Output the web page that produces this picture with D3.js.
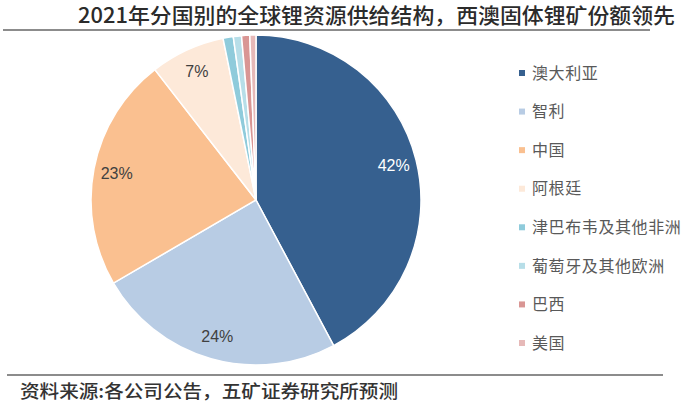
<!DOCTYPE html>
<html>
<head>
<meta charset="utf-8">
<script src="https://cdn.jsdelivr.net/npm/d3@7"></script>
<style>
  html, body { margin: 0; padding: 0; background: #fff; }
  svg { display: block; }
</style>
</head>
<body>
<div id="chart"></div>
<script>
// data
const countries = ["澳大利亚", "智利", "中国", "阿根廷", "津巴布韦及其他非洲", "葡萄牙及其他欧洲", "巴西", "美国"];
const shares = [42.2, 24.4, 22.9, 7.3, 1.0, 0.8, 0.8, 0.6];
const colors = ["#36608f", "#b8cce4", "#fac090", "#fde9d9", "#8fcbdb", "#b7dee8", "#d99694", "#e6b9b8"];
const titleText = "2021年分国别的全球锂资源供给结构，西澳固体锂矿份额领先";
const sourceText = "资料来源:各公司公告，五矿证券研究所预测";

const width = 692, height = 405;
const cx = 256, cy = 200, radius = 165;
const cjk = "'Noto Sans CJK SC', 'Noto Sans', sans-serif";

const svg = d3.select("#chart").append("svg")
    .attr("width", width)
    .attr("height", height);

// title + rules
svg.append("text")
    .attr("x", 78).attr("y", 23)
    .attr("textLength", 597)
    .attr("lengthAdjust", "spacingAndGlyphs")
    .attr("style", `font-family: ${cjk}; font-size: 21px; font-weight: 500; fill: #2b2b2b;`)
    .text(titleText);

svg.append("line")
    .attr("x1", 3).attr("x2", 650).attr("y1", 30).attr("y2", 30)
    .attr("stroke", "#8c8c8c").attr("stroke-width", 2);

svg.append("line")
    .attr("x1", 7).attr("x2", 663).attr("y1", 375).attr("y2", 375)
    .attr("stroke", "#8c8c8c").attr("stroke-width", 2);

svg.append("text")
    .attr("x", 20).attr("y", 398)
    .attr("textLength", 378)
    .attr("lengthAdjust", "spacingAndGlyphs")
    .attr("style", `font-family: ${cjk}; font-size: 18px; font-weight: 500; fill: #333;`)
    .text(sourceText);

// pie
const rows = countries.map((c, i) => ({ name: c, value: shares[i], color: colors[i] }));
const pie = d3.pie().sort(null).value(d => d.value);
const arcs = pie(rows);
const arc = d3.arc().innerRadius(0).outerRadius(radius);
const labelArc = d3.arc().innerRadius(radius * 0.86).outerRadius(radius * 0.86);

const g = svg.append("g").attr("transform", `translate(${cx},${cy})`);

g.selectAll("path")
    .data(arcs)
    .enter()
    .append("path")
    .attr("d", arc)
    .attr("fill", d => d.data.color)
    .attr("stroke", "#fff")
    .attr("stroke-width", 1.5);

g.selectAll(".pct")
    .data(arcs.filter(d => d.data.value >= 5))
    .enter()
    .append("text")
    .attr("class", "pct")
    .attr("transform", d => `translate(${labelArc.centroid(d)})`)
    .attr("text-anchor", "middle")
    .attr("dy", "0.36em")
    .attr("style", d => `font-family: 'Liberation Sans', Arial, sans-serif; font-size: 16px; fill: ${d.index === 0 ? "#fff" : "#404040"};`)
    .text(d => Math.round(d.data.value) + "%");

// legend
const ly = d3.scalePoint().domain(countries).range([73, 343]);

const legend = svg.selectAll(".legend")
    .data(rows)
    .enter()
    .append("g")
    .attr("class", "legend")
    .attr("transform", d => `translate(519,${ly(d.name)})`);

legend.append("rect")
    .attr("x", 0).attr("y", -3)
    .attr("width", 6).attr("height", 6)
    .attr("fill", d => d.color);

legend.append("text")
    .attr("x", 13)
    .attr("dy", "0.36em")
    .attr("style", `font-family: ${cjk}; font-size: 16px; letter-spacing: 0.6px; fill: #595959;`)
    .text(d => d.name);
</script>
</body>
</html>
